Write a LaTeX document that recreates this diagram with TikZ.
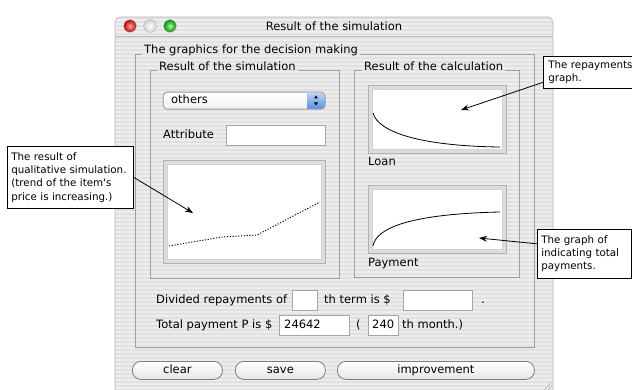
\documentclass[tikz,border=0pt]{standalone}
\usepackage{fontspec}
\setmainfont{DejaVu Sans}
\newfontfamily\guiff{DejaVu Sans}
\usetikzlibrary{arrows.meta,calc}
\newcommand\myGui{\guiff\fontsize{11.5}{13}\selectfont}
\newcommand\myCall{\guiff\fontsize{10.3}{13.3}\selectfont\hyphenpenalty=10000\exhyphenpenalty=10000}
\definecolor{winbg}{RGB}{237,237,237}
\definecolor{stripec}{RGB}{225,225,225}
\definecolor{framec}{RGB}{158,160,168}
\definecolor{fieldc}{RGB}{165,165,165}
\definecolor{bevel}{RGB}{218,221,226}
\definecolor{btnc}{RGB}{125,125,125}
\definecolor{popblue}{RGB}{80,145,225}
\tikzset{
  frame/.style={draw=framec, line width=0.8},
  gtitle/.style={font=\myGui, inner sep=2, anchor=west, text height=8.3, text depth=2.7},
  gui/.style={font=\myGui, inner sep=0, anchor=west, text height=8.3, text depth=2.7},
  field/.style={draw=fieldc, fill=white, line width=0.7, anchor=north west, inner sep=0},
  gbox/.style={draw=gray!60, fill=bevel, line width=0.7, anchor=north west, inner sep=0},
  gwhite/.style={draw=gray!35, fill=white, line width=0.5, inner sep=0},
  callout/.style={draw=black, fill=white, line width=0.7, font=\myCall, align=left, anchor=north west, inner ysep=0, inner xsep=4},
  arr/.style={-{Stealth[length=8,width=6]}, line width=0.8, black},
  btn/.style={draw=btnc, rounded corners=8.5, top color=white, bottom color=gray!20, line width=0.8, font=\myGui, anchor=north west, minimum height=18, inner sep=0, text height=8.3, text depth=2.7},
  curve/.style={line width=0.8, black},
  light/.style={circle, minimum size=12.6, inner sep=0, draw=gray!60, line width=0.4}
}
\begin{document}
\begin{tikzpicture}[x=1pt,y=-1pt]
\useasboundingbox (0,0) rectangle (632,390);
\clip (0,0) rectangle (632,390);
\fill[white] (0,0) rectangle (632,390);
% window
\fill[winbg, rounded corners=5] (115,400) -- (115,17) -- (553,17) -- (553,400) -- cycle;
\begin{scope}
  \clip[rounded corners=5] (115,400) -- (115,17) -- (553,17) -- (553,400) -- cycle;
  \foreach \yy in {18,22,...,390} \draw[stripec, line width=1.6] (115,\yy) -- (553,\yy);
\end{scope}
\draw[gray!55, line width=0.6, rounded corners=5] (115,400) -- (115,17) -- (553,17) -- (553,400);
\draw[gray!55, line width=0.8] (115,36) -- (553,36);
% title bar
\node[light, inner color=red!35!white, outer color=red!75!black] (l1) at (130,26) {};
\node[light, inner color=white, outer color=gray!35] (l2) at (150,26) {};
\node[light, inner color=green!35!white, outer color=green!55!black] (l3) at (170,26) {};
\node[font=\myGui, inner sep=0] (title) at (334,26) {Result of the simulation};
% resize grip
\draw[gray!60, line width=0.5] (544,390) -- (551,383) (548,390) -- (552,386);
% outer group
\node[gtitle] (gt0) at (142,51) {The graphics for the decision making};
\draw[frame] (gt0.west |- 0,54) -- (135,54) -- (135,347) -- (534,347) -- (534,54) -- (gt0.east |- 0,54);
% inner group 1
\node[gtitle] (gt1) at (157,67.5) {Result of the simulation};
\draw[frame] (gt1.west |- 0,70) -- (150,70) -- (150,278) -- (339,278) -- (339,70) -- (gt1.east |- 0,70);
% inner group 2
\node[gtitle] (gt2) at (362,67.5) {Result of the calculation};
\draw[frame] (gt2.west |- 0,70) -- (354,70) -- (354,277) -- (519,277) -- (519,70) -- (gt2.east |- 0,70);
% popup
\node[draw=gray!70, rounded corners=4, top color=white, bottom color=gray!12, line width=0.7, minimum width=162, minimum height=17, anchor=north west, inner sep=0] (pop) at (163,92) {};
\begin{scope}
  \clip[rounded corners=4] (163,92) rectangle (325,109);
  \shade[top color=popblue!35!white, bottom color=popblue] (307,92) rectangle (325,109);
\end{scope}
\draw[gray!70, line width=0.7, rounded corners=4] (163,92) rectangle (325,109);
\fill[black] (314,98.5) -- (318,98.5) -- (316,95.5) -- cycle;
\fill[black] (314,102.5) -- (318,102.5) -- (316,105.5) -- cycle;
\node[gui] (popt) at (171,100.5) {others};
% attribute
\node[gui] (attr) at (163,136) {Attribute};
\node[field, minimum width=99, minimum height=20] (attrf) at (226,125) {};
% simulation graph
\node[gbox, minimum width=162, minimum height=103] (g1) at (163,160) {};
\node[gwhite, minimum width=154, minimum height=95] (g1w) at (g1.center) {};
\draw[dash pattern=on 1.2pt off 1.6pt, line width=0.9] (169,246) -- (222,237) -- (257,235) -- (320,202);
% loan graph
\node[gbox, minimum width=138, minimum height=68] (g2) at (368,85) {};
\node[gwhite, minimum width=130, minimum height=60] (g2w) at (g2.center) {};
\draw[curve] (373,113) .. controls (378,132) and (420,146) .. (500,147);
\node[gui] (loan) at (368,163) {Loan};
% payment graph
\node[gbox, minimum width=138, minimum height=68] (g3) at (368,185) {};
\node[gwhite, minimum width=130, minimum height=60] (g3w) at (g3.center) {};
\draw[curve] (373,246) .. controls (376,228) and (410,214) .. (500,212);
\node[gui] (pay) at (368,264) {Payment};
% bottom rows
\node[gui] (r1a) at (156,301) {Divided repayments of};
\node[field, minimum width=25, minimum height=20] (f1) at (292,290) {};
\node[gui] (r1b) at (324,301) {th term is \$};
\node[field, minimum width=69, minimum height=20] (f2) at (403,290) {};
\node[gui] (r1c) at (481,301) {.};
\node[gui] (r2a) at (156,326) {Total payment P is \$};
\node[field, minimum width=70, minimum height=20] (f3) at (279,315) {};
\node[gui] (v3) at (284,326) {24642};
\node[gui] (r2b) at (356,326) {(};
\node[field, minimum width=30, minimum height=20] (f4) at (368,315) {};
\node[gui] (v4) at (372,326) {240};
\node[gui] (r2c) at (402,326) {th month.)};
% buttons
\node[btn, minimum width=90] (bclear) at (132,361) {clear};
\node[btn, minimum width=90] (bsave) at (235,361) {save};
\node[btn, minimum width=197] (bimp) at (337,361) {improvement};
% callouts
\node[callout, minimum width=126, minimum height=62, text width=118] (c1) at (7,146) {The result of\\qualitative simulation.\\(trend of the item's\\price is increasing.)};
\coordinate (tip1) at (193,213);
\draw[arr] (c1.east) -- (tip1);
\node[callout, minimum width=130, minimum height=32, text width=120] (c2) at (543,56) {The repayments\\graph.};
\coordinate (tip2) at (461,110);
\draw[arr] ($(c2.west)+(0,10)$) -- (tip2);
\node[callout, minimum width=94, minimum height=49, text width=86] (c3) at (537,229) {The graph of\\indicating total\\payments.};
\coordinate (tip3) at (479,238);
\draw[arr] ($(c3.west)+(0,-10)$) -- (tip3);
\end{tikzpicture}
\end{document}
